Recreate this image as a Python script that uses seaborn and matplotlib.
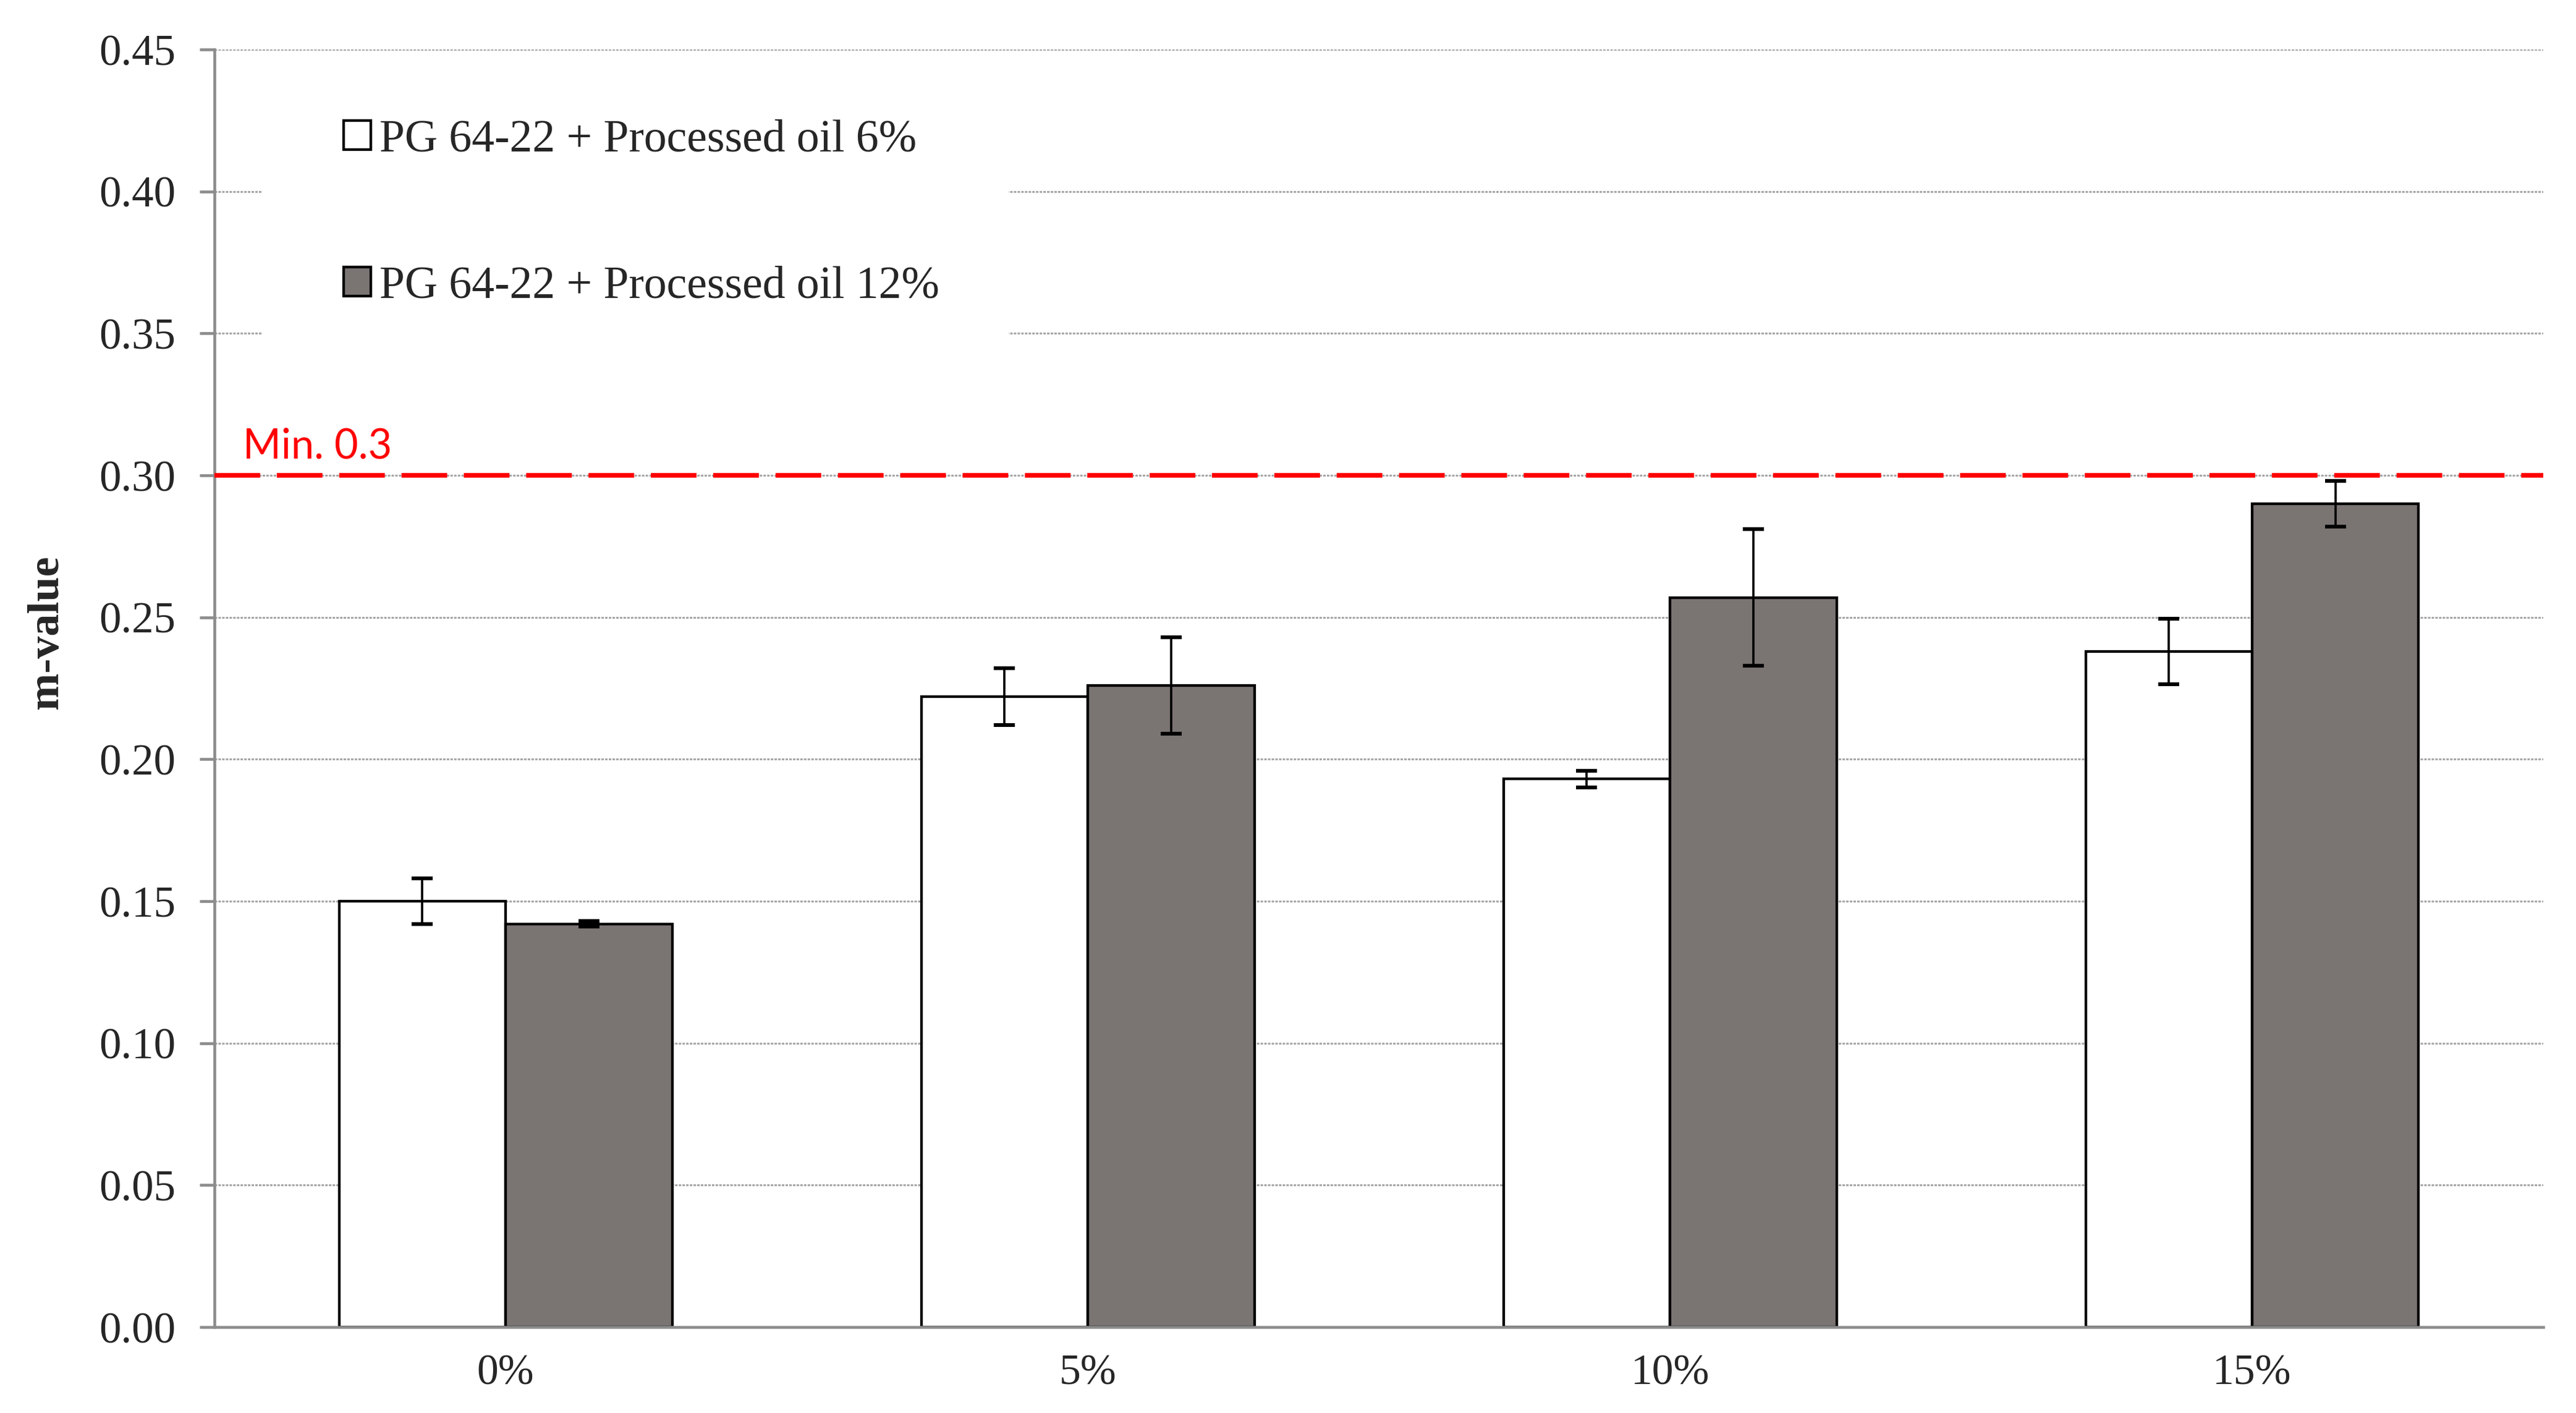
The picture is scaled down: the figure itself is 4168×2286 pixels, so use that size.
import matplotlib
matplotlib.use("Agg")
import matplotlib.pyplot as plt
from matplotlib.patches import Rectangle
import seaborn as sns
import pandas as pd

# values
categories = ["0%", "5%", "10%", "15%"]
series_names = ["PG 64-22 + Processed oil 6%", "PG 64-22 + Processed oil 12%"]
oil6 = [0.150, 0.222, 0.193, 0.238]
oil6_err = [0.008, 0.010, 0.003, 0.0115]
oil12 = [0.142, 0.226, 0.257, 0.290]
oil12_err = [0.001, 0.017, 0.024, 0.008]
min_spec = 0.3
min_label = "Min. 0.3"
yticks = [0.00, 0.05, 0.10, 0.15, 0.20, 0.25, 0.30, 0.35, 0.40, 0.45]

sns.set_style("white")
plt.rcParams["font.family"] = ["Liberation Serif", "DejaVu Serif"]

data = pd.DataFrame({
    "Content": categories * 2,
    "m": oil6 + oil12,
    "Binder": [series_names[0]] * len(categories) + [series_names[1]] * len(categories),
})

fig, ax = plt.subplots(figsize=(20.84, 11.43), dpi=200)
fig.subplots_adjust(left=0.0833, right=0.9873, bottom=0.0608, top=0.965)

ax.set_axisbelow(True)
ax.yaxis.grid(True, linestyle=(0, (1.3, 0.65)), color="#a6a6a6", linewidth=1.1)
ax.xaxis.grid(False)

sns.barplot(data=data, x="Content", y="m", hue="Binder", hue_order=series_names,
            palette=["white", "#7a7473"], edgecolor="black", linewidth=1.55,
            width=0.572, gap=0, errorbar=None, saturation=1, ax=ax)

# error bars on top of each bar
for cont, errs in zip(ax.containers, [oil6_err, oil12_err]):
    xs = [b.get_x() + b.get_width() / 2 for b in cont]
    ys = [b.get_height() for b in cont]
    ax.errorbar(xs, ys, yerr=errs, fmt="none", ecolor="black", elinewidth=1.3,
                capsize=6, capthick=2.2, zorder=4)

# minimum spec line
ax.axhline(min_spec, color="red", linewidth=2.7, linestyle=(0, (9.85, 3.6)), zorder=3)
ax.text(-0.451, min_spec + 0.006, min_label, color="red", fontsize=24,
        family=["Lato", "DejaVu Sans"], ha="left", va="baseline")

# white patch behind the legend hides the gridlines there
ax.add_patch(Rectangle((0.0204, 0.748), 0.3206, 0.2447, transform=ax.transAxes,
                       facecolor="white", edgecolor="none", zorder=0.8))

ax.set_ylim(0, 0.45)
ax.set_xlim(-0.5, len(categories) - 0.5)
ax.set_yticks(yticks)
ax.set_yticklabels([f"{t:.2f}" for t in yticks])
ax.set_xlabel("")
ax.set_ylabel("m-value", fontsize=26, fontweight="bold")
ax.yaxis.set_label_coords(-0.0635, 0.544)

ax.tick_params(axis="y", labelsize=25.5, length=8.6, width=1.65, color="#8c8c8c",
               pad=14, left=True)
ax.tick_params(axis="x", labelsize=25, length=0, pad=16)

sns.despine(ax=ax, top=True, right=True)
for side in ["left", "bottom"]:
    ax.spines[side].set_color("#8c8c8c")
    ax.spines[side].set_linewidth(1.65)

sns.move_legend(ax, "center left", bbox_to_anchor=(0.0555, 0.8718), title=None,
                frameon=False, fontsize=26.5, borderpad=0, borderaxespad=0,
                handlelength=0.6, handleheight=0.6, handletextpad=0.18,
                labelspacing=2.3)

fig.savefig("out.png", dpi=200, facecolor="white")
